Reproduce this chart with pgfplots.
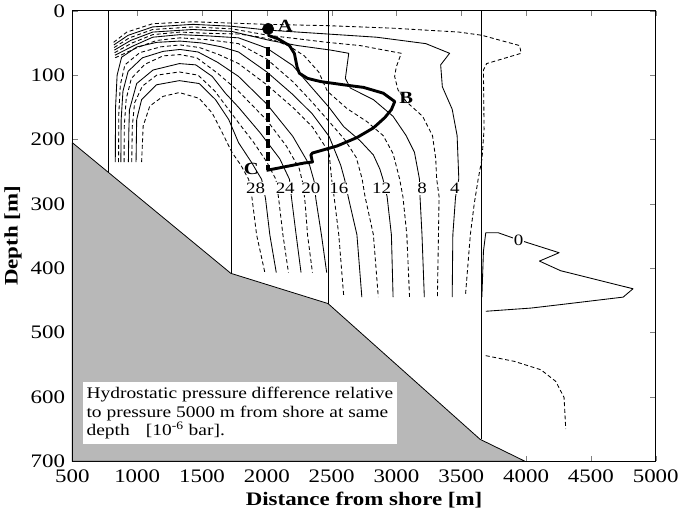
\documentclass[border=0pt]{standalone}
\usepackage{fontspec}
\setmainfont{Liberation Serif}[FakeStretch=1.2]
\usepackage{pgfplots}
\pgfplotsset{compat=1.18}
\tikzset{
  cs/.style={black, line width=0.65pt, line join=round},
  cd/.style={black, line width=0.65pt, line join=round, dash pattern=on 3pt off 2pt},
  lbl/.style={fill=white, inner sep=0.6pt, font=\fontsize{12}{12}\selectfont},
}
\begin{document}
\begin{tikzpicture}
\begin{axis}[
    scale only axis,
    width=443pt, height=342pt,
    xmin=500, xmax=5000, ymin=0, ymax=700,
    y dir=reverse,
    xtick={500,1000,...,5000},
    ytick={0,100,...,700},
    /pgf/number format/1000 sep={},
    /pgf/number format/assume math mode=true,
    tick label style={font=\fontsize{14.5}{14.5}\selectfont},
    xticklabel style={yshift=-3pt},
    yticklabel style={xshift=-2pt},
    label style={font=\bfseries\fontsize{14.5}{15}\selectfont},
    xlabel={Distance from shore [m]},
    ylabel={Depth [m]},
    major tick length=4pt,
    axis line style={line width=0.6pt},
    clip=false,
]
% sea bed
\addplot[fill=black!28, draw=black, line width=0.6pt] coordinates {
  (500,205) (1722,408) (2472,455) (3645,666) (3990,700) (500,700) (500,205)};
% vertical section lines
\addplot[black, line width=0.5pt] coordinates {(780,0) (780,251)};
\addplot[black, line width=0.5pt] coordinates {(1725,0) (1725,408)};
\addplot[black, line width=0.5pt] coordinates {(2478,0) (2478,455)};
\addplot[black, line width=0.5pt] coordinates {(3655,0) (3655,666)};

% contour 2
\addplot[cd] coordinates {(818,49) (920,33) (1120,20) (1430,17) (1720,19) (2000,21) (2467,23) (2974,27) (3481,33) (3659,38) (3950,54) (3962,66) (3696,82) (3671,92) (3676,184) (3660,230) (3630,262) (3600,300) (3570,348) (3532,443)};
% contour 4
\addplot[cs] coordinates {(820,53) (930,38) (1120,25) (1430,21) (1730,24) (2010,30) (2467,36) (2847,41) (3227,51) (3410,66) (3341,84) (3354,118) (3430,153) (3468,194) (3481,261) (3456,289) (3435,348) (3430,445)};
% contour 6
\addplot[cd] coordinates {(822,57) (940,42) (1120,29) (1430,25) (1730,28) (2010,38) (2467,49) (2720,54) (3037,66) (2999,87) (2986,102) (3012,123) (3075,141) (3202,164) (3278,194) (3303,230) (3310,261) (3329,289) (3324,348) (3316,445)};
% contour 8
\addplot[cs] coordinates {(824,61) (950,46) (1120,33) (1430,29) (1730,32) (2023,46) (2238,54) (2492,61) (2632,66) (2606,105) (2644,120) (2822,138) (2974,164) (3075,194) (3139,220) (3177,261) (3182,290) (3197,348) (3215,445)};
% contour 10
\addplot[cd] coordinates {(826,65) (960,50) (1120,37) (1330,33) (1550,35) (1782,36) (1922,40) (2048,45) (2175,55) (2289,70) (2400,95) (2467,125) (2619,152) (2771,172) (2898,194) (2974,222) (3024,261) (3050,289) (3080,348) (3101,445)};
% contour 12
\addplot[cs] coordinates {(828,69) (975,54) (1120,41) (1330,37) (1550,39) (1782,42) (2000,58) (2200,85) (2350,120) (2480,150) (2593,180) (2720,202) (2822,224) (2872,246) (2895,261) (2928,289) (2961,348) (2974,445)};
% contour 14
\addplot[cd] coordinates {(830,73) (990,58) (1150,46) (1330,42) (1550,45) (1782,51) (2000,75) (2200,110) (2350,142) (2480,172) (2600,200) (2690,228) (2735,261) (2758,289) (2822,348) (2860,445)};
% contour 16
\addplot[cs] coordinates {(831,235) (833,150) (845,100) (880,72) (1000,56) (1150,49) (1330,47) (1500,50) (1650,56) (1782,64) (2000,95) (2200,130) (2350,160) (2480,195) (2570,240) (2600,262) (2631,292) (2695,348) (2733,445)};
% contour 18
\addplot[cd] coordinates {(856,235) (858,160) (870,115) (905,84) (1020,65) (1180,56) (1330,53) (1480,57) (1630,68) (1782,82) (2000,115) (2200,150) (2350,180) (2480,220) (2500,262) (2517,286) (2555,348) (2593,443)};
% contour 20
\addplot[cs] coordinates {(874,235) (876,170) (890,125) (930,94) (1040,73) (1200,63) (1330,60) (1470,64) (1620,80) (1782,102) (2000,145) (2200,195) (2330,240) (2365,265) (2378,292) (2421,348) (2462,407)};
% contour 22
\addplot[cd] coordinates {(899,235) (900,180) (915,137) (955,105) (1060,83) (1200,70) (1330,68) (1460,73) (1620,97) (1782,125) (2000,170) (2150,210) (2250,245) (2280,270) (2296,300) (2314,348) (2352,407)};
% contour 24
\addplot[cs] coordinates {(932,235) (935,190) (940,154) (996,113) (1122,92) (1325,82) (1452,84) (1579,102) (1680,128) (1782,150) (1950,190) (2100,230) (2175,262) (2190,290) (2226,348) (2264,407)};
% contour 26
\addplot[cd] coordinates {(958,235) (962,180) (980,143) (1040,117) (1150,100) (1325,95) (1470,100) (1600,125) (1700,152) (1782,174) (1900,205) (2000,235) (2070,262) (2090,290) (2124,348) (2167,407)};
% contour 28
\addplot[cs] coordinates {(991,235) (996,169) (1034,138) (1148,115) (1325,108.5) (1478,113) (1604,138) (1706,169) (1782,205) (1880,235) (1960,262) (1990,292) (2023,348) (2073,407)};
% contour 30
\addplot[cd] coordinates {(1034,235) (1046,179) (1097,148) (1199,133) (1325,127) (1478,136) (1579,159) (1655,189) (1731,220) (1800,240) (1860,262) (1885,290) (1921,348) (1985,407)};
% contour 0 and -2 (offshore)
\addplot[cs] coordinates {(3659,445) (3671,374) (3689,345) (3786,345) (3912,354) (4255,376) (4103,389) (4267,404) (4825,432) (4749,445) (4293,456) (4039,462) (3689,467)};
\addplot[cd] coordinates {(3689,536) (3912,545) (4115,558) (4229,576) (4293,601) (4306,650)};

% path A-B-C
\addplot[black, dash pattern=on 7pt off 3pt, line width=2.5pt] coordinates {(2010,56) (2010,248)};
\addplot[black, line width=2.2pt, line join=round] coordinates {(2010,38) (2086,43.5) (2175,54) (2213,66.5) (2233,87) (2251,97) (2314,105) (2416,110) (2593,115) (2746,119) (2898,128) (2987,141) (2961,153.5) (2910,166) (2822,182) (2695,197) (2543,210) (2352,221) (2340,224) (2352,235) (2289,236.5) (1998,248)};
\addplot[only marks, mark=*, mark size=4.3pt, black] coordinates {(2010,28)};

% labels
\node[font=\bfseries\fontsize{13}{13}\selectfont] at (axis cs:2142,23) {A};
\node[font=\bfseries\fontsize{13}{13}\selectfont] at (axis cs:3075,136) {B};
\node[font=\bfseries\fontsize{13}{13}\selectfont] at (axis cs:1880,245) {C};
\node[lbl] at (axis cs:1914,276) {28};
\node[lbl] at (axis cs:2142,276) {24};
\node[lbl] at (axis cs:2340,276) {20};
\node[lbl] at (axis cs:2556,276) {16};
\node[lbl] at (axis cs:2885,276) {12};
\node[lbl] at (axis cs:3197,276) {8};
\node[lbl] at (axis cs:3450,276) {4};
\node[lbl] at (axis cs:3942,357) {0};

\node[fill=white, anchor=north west, inner xsep=3pt, inner ysep=4pt, align=left,
      font=\fontsize{12.3}{13.7}\selectfont]
  at (axis cs:577,577) {Hydrostatic pressure difference relative\\
  to pressure 5000 m from shore at same\\
  depth\quad[10\textsuperscript{-6} bar].};
\end{axis}
\end{tikzpicture}
\end{document}
